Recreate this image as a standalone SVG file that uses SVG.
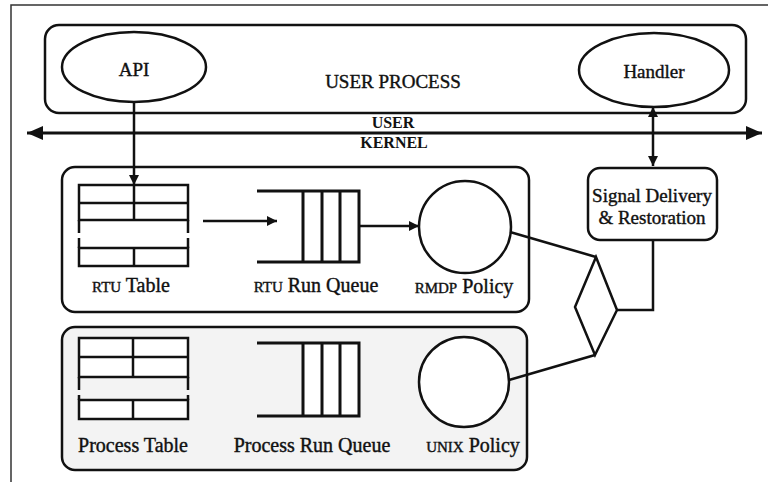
<svg xmlns="http://www.w3.org/2000/svg" width="768" height="482" viewBox="0 0 768 482">
<defs>
<style>
.s{fill:none;stroke:#111;stroke-width:2.5}
.w{fill:#fff;stroke:#111;stroke-width:2.5}
.q{fill:none;stroke:#111;stroke-width:3}
.t{font-family:"Liberation Serif","Times New Roman",serif;font-size:19px;fill:#111;stroke:#111;stroke-width:0.4}
.b{font-family:"Liberation Serif","Times New Roman",serif;font-size:20px;fill:#111;stroke:#111;stroke-width:0.4}
.sg{font-family:"Liberation Serif","Times New Roman",serif;font-size:19px;fill:#111;stroke:#111;stroke-width:0.4}
.sc{font-size:15px}
.k{font-family:"Liberation Serif","Times New Roman",serif;font-size:16px;font-weight:bold;fill:#111}
.c{fill:none;stroke:#111;stroke-width:2.5}
</style>
<marker id="big" viewBox="0 0 16 14" refX="16" refY="7" markerWidth="16" markerHeight="14" markerUnits="userSpaceOnUse" orient="auto-start-reverse"><path d="M0,0 L16,7 L0,14 z" fill="#111"/></marker>
<marker id="ah" viewBox="0 0 10 10" refX="10" refY="5" markerWidth="10" markerHeight="10" markerUnits="userSpaceOnUse" orient="auto-start-reverse"><path d="M0,0 L10,5 L0,10 z" fill="#111"/></marker>
</defs>
<rect width="768" height="482" fill="#fff"/>
<path d="M11,482 V5 H768" fill="none" stroke="#333" stroke-width="1.5"/>

<g id="user-process">
<rect class="s" x="45" y="25" width="701" height="88" rx="14"/>
<text class="t" x="393" y="88" text-anchor="middle">USER PROCESS</text>
</g>
<g id="api">
<ellipse class="w" cx="134" cy="67" rx="72" ry="35"/>
<text class="t" x="134" y="76" text-anchor="middle">API</text>
</g>
<g id="handler">
<ellipse class="w" cx="654" cy="70" rx="75" ry="37"/>
<text class="t" x="654" y="78" text-anchor="middle">Handler</text>
</g>
<g id="boundary-labels">
<text class="k" x="393" y="128" text-anchor="middle">USER</text>
<text class="k" x="394" y="148" text-anchor="middle">KERNEL</text>
</g>

<g id="rtu-box">
<rect class="s" x="62" y="167" width="467" height="145" rx="13"/>
</g>
<g id="rtu-table">
<rect class="s" x="79" y="185" width="109" height="35"/>
<line class="s" x1="79" y1="203" x2="188" y2="203"/>
<line class="s" x1="134" y1="185" x2="134" y2="220"/>
<path class="s" d="M79,220 V233 M79,238 V248 M188,220 V233 M188,238 V248"/>
<rect class="s" x="79" y="248" width="109" height="18"/>
<line class="s" x1="134" y1="248" x2="134" y2="266"/>
<text class="b" x="131" y="292" text-anchor="middle"><tspan class="sc">RTU</tspan> Table</text>
</g>
<g id="rtu-queue">
<path class="q" d="M257,191 H359 V262 H257 M303,191 V262 M322,191 V262 M340,191 V262"/>
<text class="b" x="316" y="292" text-anchor="middle"><tspan class="sc">RTU</tspan> Run Queue</text>
</g>
<g id="rmdp-policy">
<circle class="s" cx="465" cy="227" r="46"/>
<text class="b" x="464" y="293" text-anchor="middle"><tspan class="sc">RMDP</tspan> Policy</text>
</g>

<g id="process-box">
<rect x="62" y="327" width="465" height="143" rx="13" fill="#f3f3f3" stroke="#111" stroke-width="2.5"/>
</g>
<g id="process-table">
<rect class="w" x="79" y="338" width="109" height="39"/>
<line class="s" x1="79" y1="357" x2="188" y2="357"/>
<line class="s" x1="133" y1="338" x2="133" y2="377"/>
<path class="s" d="M79,377 V390 M79,395 V400 M188,377 V390 M188,395 V400"/>
<rect class="w" x="79" y="400" width="109" height="19"/>
<line class="s" x1="133" y1="400" x2="133" y2="419"/>
<text class="b" x="133" y="452" text-anchor="middle">Process Table</text>
</g>
<g id="process-queue">
<rect x="303" y="343" width="56" height="73" fill="#fff"/>
<path class="q" d="M257,343 H359 V416 H257 M303,343 V416 M322,343 V416 M340,343 V416"/>
<text class="b" x="312" y="452" text-anchor="middle">Process Run Queue</text>
</g>
<g id="unix-policy">
<circle class="w" cx="464" cy="382" r="45"/>
<text class="b" x="473" y="452" text-anchor="middle"><tspan class="sc">UNIX</tspan> Policy</text>
</g>

<g id="signal-delivery">
<rect class="w" x="588" y="168" width="129" height="72" rx="12"/>
<text class="sg" x="652" y="202" text-anchor="middle">Signal Delivery</text>
<text class="sg" x="652" y="224" text-anchor="middle">&amp; Restoration</text>
</g>
<g id="selector">
<polygon class="s" points="596,257 617,310 595,355 575,307"/>
</g>

<g id="connectors">
<line x1="27" y1="133" x2="762" y2="133" stroke="#111" stroke-width="3" marker-start="url(#big)" marker-end="url(#big)"/>
<line class="c" x1="134" y1="102" x2="134" y2="185" marker-end="url(#ah)"/>
<line class="c" x1="653" y1="107" x2="653" y2="166" marker-start="url(#ah)" marker-end="url(#ah)"/>
<line class="c" x1="203" y1="221" x2="277" y2="221" marker-end="url(#ah)"/>
<line class="c" x1="359" y1="226" x2="419" y2="226" marker-end="url(#ah)"/>
<polyline class="c" points="653,240 653,310 617,310"/>
<line class="c" x1="510" y1="232" x2="596" y2="257"/>
<line class="c" x1="509" y1="380" x2="595" y2="355"/>
</g>
</svg>
